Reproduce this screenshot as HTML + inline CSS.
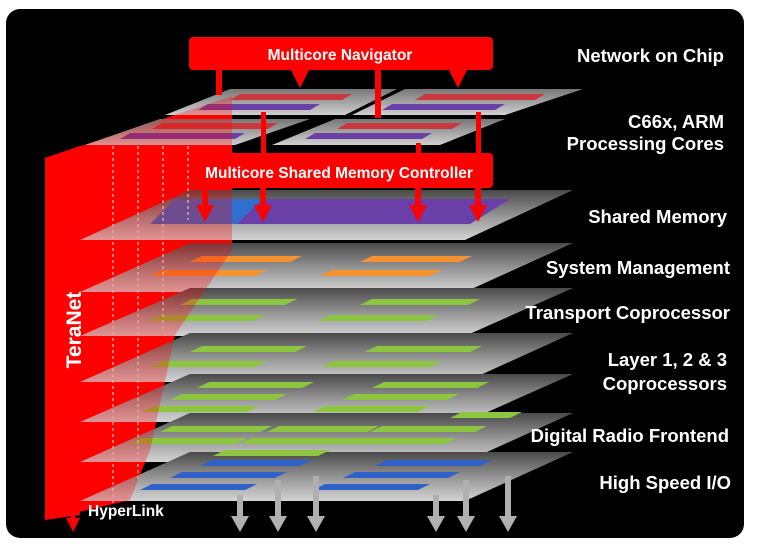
<!DOCTYPE html>
<html><head><meta charset="utf-8"><style>
html,body{margin:0;padding:0;background:#fff;width:775px;height:546px;overflow:hidden}
svg{display:block}
text{font-family:"Liberation Sans",Arial,sans-serif;font-weight:bold;fill:#fff}
</style></head><body>
<svg width="775" height="546" viewBox="0 0 775 546" xmlns="http://www.w3.org/2000/svg">
<defs>
<linearGradient id="pg" x1="0" y1="0" x2="0" y2="1">
<stop offset="0" stop-color="#4a4a4a"/><stop offset="0.55" stop-color="#9a9a9a"/><stop offset="1" stop-color="#d4d4d4"/>
</linearGradient>
<linearGradient id="cg" x1="0" y1="0" x2="0" y2="1">
<stop offset="0" stop-color="#777"/><stop offset="1" stop-color="#d0d0d0"/>
</linearGradient>
</defs>
<rect x="0" y="0" width="775" height="546" fill="#fff"/>
<rect x="6" y="9" width="738" height="529" rx="14" fill="#000"/>

<polygon points="45,158 232,96 232,250 175,335 150,450 130,500 45,520" fill="#ff0000"/>

<polygon points="230,89 397,89 345,115 165,115" fill="url(#cg)"/>
<polygon points="405,89 583,89 505,115 352,115" fill="url(#cg)"/>
<polygon points="160,119 310,119 235,145 85,145" fill="url(#cg)"/>
<polygon points="335,119 505,119 440,145 272,145" fill="url(#cg)"/>
<g>
<polygon points="240,94 352,94 342,100 230,100" fill="#c8383c"/>
<polygon points="208,104 320,104 310,110 198,110" fill="#6a3fa8"/>
<polygon points="425,94 545,94 535,100 415,100" fill="#c8383c"/>
<polygon points="392,104 505,104 495,110 382,110" fill="#6a3fa8"/>
<polygon points="162,123 278,123 268,129 152,129" fill="#c8383c"/>
<polygon points="130,133 245,133 235,139 120,139" fill="#6a3fa8"/>
<polygon points="347,123 462,123 452,129 337,129" fill="#c8383c"/>
<polygon points="315,133 432,133 422,139 305,139" fill="#6a3fa8"/>
</g>

<polygon points="190,190 573,190 465,240 80,240" fill="url(#pg)"/>
<polygon points="190,243 573,243 465,292 80,292" fill="url(#pg)"/>
<polygon points="190,288 573,288 465,336 80,336" fill="url(#pg)"/>
<polygon points="190,333 573,333 465,382 80,382" fill="url(#pg)"/>
<polygon points="190,374 573,374 465,422 80,422" fill="url(#pg)"/>
<polygon points="190,413 573,413 465,462 80,462" fill="url(#pg)"/>
<polygon points="190,452 573,452 465,501 80,501" fill="url(#pg)"/>

<polygon points="175,199 262,199 237,224 150,224" fill="#2f6fcf"/>
<polygon points="262,199 510,199 470,224 237,224" fill="#6a3fa8"/>

<g fill="#f3922e">
<polygon points="202,256 302,256 290,262 190,262"/><polygon points="372,256 472,256 460,262 360,262"/>
<polygon points="162,270 267,270 255,276 150,276"/><polygon points="332,270 442,270 430,276 320,276"/>
</g>
<g fill="#8cc63f">
<polygon points="192,299 297,299 285,305 180,305"/><polygon points="372,299 480,299 468,305 360,305"/>
<polygon points="160,315 265,315 253,321 148,321"/><polygon points="330,315 438,315 426,321 318,321"/>
<polygon points="202,346 307,346 295,352 190,352"/><polygon points="377,346 482,346 470,352 365,352"/>
<polygon points="162,361 267,361 255,367 150,367"/><polygon points="334,361 442,361 430,367 322,367"/>
<polygon points="209,382 314,382 302,388 197,388"/><polygon points="384,382 489,382 477,388 372,388"/>
<polygon points="182,394 287,394 275,400 170,400"/><polygon points="354,394 459,394 447,400 342,400"/>
<polygon points="154,406 259,406 247,412 142,412"/><polygon points="325,406 430,406 418,412 313,412"/>
<polygon points="462,412 522,412 510,418 450,418"/>
<polygon points="172,426 272,426 260,432 160,432"/><polygon points="279,426 379,426 367,432 267,432"/><polygon points="382,426 487,426 475,432 370,432"/>
<polygon points="142,438 247,438 235,444 130,444"/><polygon points="252,438 352,438 340,444 240,444"/><polygon points="352,438 457,438 445,444 340,444"/>
<polygon points="225,450 330,450 318,456 213,456"/>
</g>
<g fill="#2f62c8">
<polygon points="212,460 312,460 300,466 200,466"/><polygon points="387,460 492,460 480,466 375,466"/>
<polygon points="182,472 287,472 275,478 170,478"/><polygon points="355,472 460,472 448,478 343,478"/>
<polygon points="152,484 257,484 245,490 140,490"/><polygon points="325,484 430,484 418,490 313,490"/>
</g>

<polygon points="45,158 232,96 232,250 175,335 150,450 130,500 45,520" fill="#ff0000" opacity="0.3"/>
<polygon points="45,158 80,146 80,515 45,520" fill="#ff0000"/>

<g stroke="#e8a0a0" stroke-width="1.5" stroke-dasharray="3,3">
<line x1="113" y1="146" x2="113" y2="505"/>
<line x1="138" y1="146" x2="138" y2="480"/>
<line x1="163" y1="146" x2="163" y2="330"/>
<line x1="188" y1="146" x2="188" y2="220"/>
</g>

<text transform="translate(81,330) rotate(-90)" font-size="21" text-anchor="middle">TeraNet</text>

<line x1="73" y1="505" x2="73" y2="522" stroke="#f00" stroke-width="4"/>
<polygon points="66,518 80,518 73,532" fill="#f00"/>
<text x="88" y="516" font-size="15.5">HyperLink</text>

<g fill="#b0b0b0">
<rect x="237" y="495" width="6" height="24"/><polygon points="231,516 249,516 240,532"/>
<rect x="275" y="480" width="6" height="39"/><polygon points="269,516 287,516 278,532"/>
<rect x="313" y="476" width="6" height="43"/><polygon points="307,516 325,516 316,532"/>
<rect x="433" y="495" width="6" height="24"/><polygon points="427,516 445,516 436,532"/>
<rect x="463" y="480" width="6" height="39"/><polygon points="457,516 475,516 466,532"/>
<rect x="505" y="476" width="6" height="43"/><polygon points="499,516 517,516 508,532"/>
</g>

<rect x="189" y="37" width="304" height="33" rx="4" fill="#ff0000"/>
<text x="340" y="60" font-size="15.5" text-anchor="middle">Multicore Navigator</text>
<g fill="#ff0000">
<rect x="216" y="70" width="6" height="25"/>
<rect x="375" y="70" width="6" height="48"/>
<polygon points="291,70 309,70 300,88"/>
<polygon points="449,70 467,70 458,88"/>
<rect x="261" y="112" width="5" height="42"/>
<rect x="476" y="112" width="5" height="42"/>
<rect x="416" y="143" width="5" height="11"/>
</g>
<rect x="190" y="153" width="303" height="35" rx="4" fill="#ff0000"/>
<text x="339" y="178" font-size="15.5" text-anchor="middle">Multicore  Shared Memory Controller</text>
<g fill="#ff0000">
<rect x="202" y="188" width="6" height="20"/><polygon points="196,205 214,205 205,222"/>
<rect x="260" y="188" width="6" height="20"/><polygon points="254,205 272,205 263,222"/>
<rect x="415" y="188" width="6" height="20"/><polygon points="409,205 427,205 418,222"/>
<rect x="475" y="188" width="6" height="20"/><polygon points="469,205 487,205 478,222"/>
</g>

<g font-size="18.5" text-anchor="end">
<text x="724" y="62">Network on Chip</text>
<text x="724" y="128">C66x, ARM</text>
<text x="724" y="150">Processing Cores</text>
<text x="727" y="223">Shared Memory</text>
<text x="730" y="274">System Management</text>
<text x="730" y="319">Transport  Coprocessor</text>
<text x="727" y="366">Layer  1, 2 &amp; 3</text>
<text x="727" y="390">Coprocessors</text>
<text x="729" y="442">Digital Radio Frontend</text>
<text x="731" y="489">High Speed I/O</text>
</g>
</svg>
</body></html>
